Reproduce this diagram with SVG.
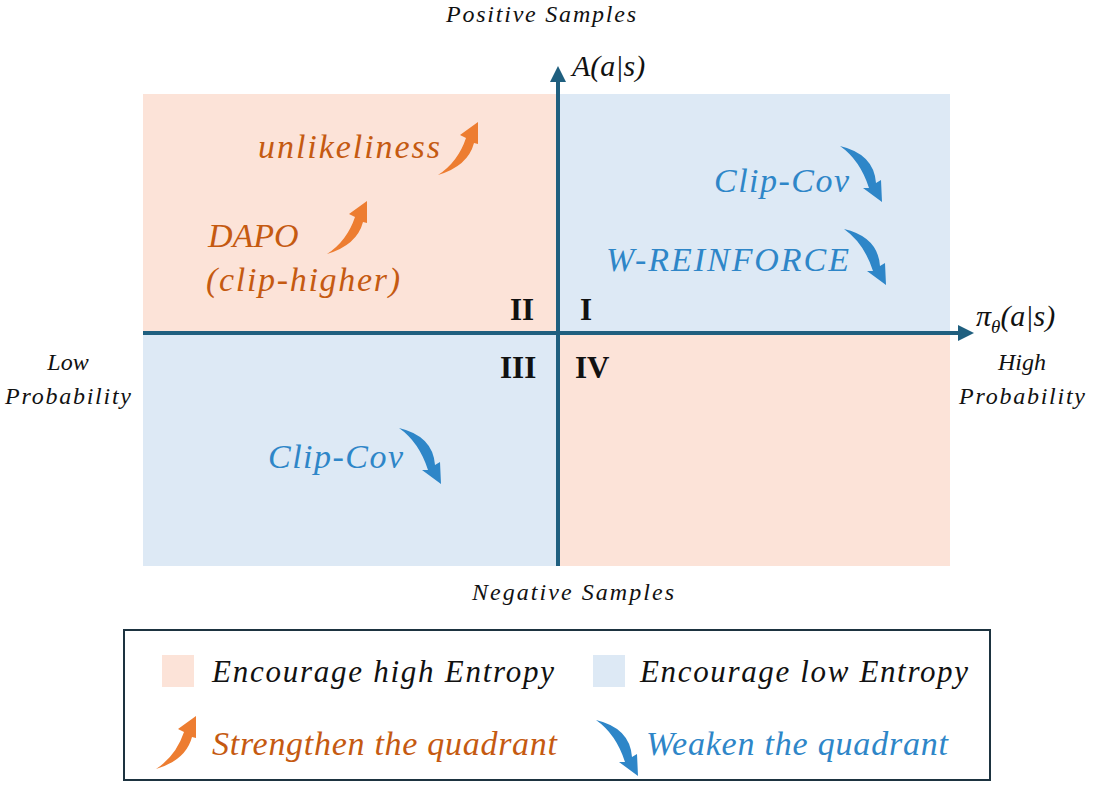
<svg xmlns="http://www.w3.org/2000/svg" width="1093" height="791" viewBox="0 0 1093 791">
<style>
text{font-family:"Liberation Serif",serif;font-style:italic}
.o{fill:#c55a11;font-size:34px}
.b{fill:#2e86c8;font-size:34px}
.k{fill:#111;font-size:24px}
.r{font-style:normal;font-weight:bold;font-size:31px;fill:#111}
.l{font-size:31px;fill:#111}
.ax{stroke:#1f5f7f;stroke-width:4}
</style>
<defs>
<path id="up" d="M0,0 L-18,13 L-12,16 Q-20,40 -40,53 Q-10,44 -4,21 L0,22 Z" fill="#ed7d31"/>
<path id="dn" d="M0,0 L-19,-14 L-13,-14 Q-22,-42 -42,-56 Q-8,-48 -6,-19 L-1,-22 Z" fill="#2e86c8"/>
</defs>
<g id="quadrants">
<rect x="143" y="94" width="415" height="239" fill="#fce3d8"/>
<rect x="558" y="94" width="392" height="239" fill="#dde9f5"/>
<rect x="143" y="333" width="415" height="233" fill="#dde9f5"/>
<rect x="558" y="333" width="392" height="233" fill="#fce3d8"/>
</g>
<g id="axes">
<line class="ax" x1="143" y1="333" x2="962" y2="333"/>
<path d="M974,333 L958,325 L958,341 Z" fill="#1f5f7f"/>
<line class="ax" x1="558" y1="566" x2="558" y2="78"/>
<path d="M558,66 L550,82 L566,82 Z" fill="#1f5f7f"/>
</g>
<g id="labels">
<text class="k" x="541" y="22" text-anchor="middle" textLength="190">Positive Samples</text>
<text class="k" x="573" y="600" text-anchor="middle" textLength="202">Negative Samples</text>
<text class="k" x="68" y="370" text-anchor="middle">Low</text>
<text class="k" x="68" y="404" text-anchor="middle" textLength="126">Probability</text>
<text class="k" x="1022" y="370" text-anchor="middle">High</text>
<text class="k" x="1022" y="404" text-anchor="middle" textLength="126">Probability</text>
<text x="572" y="76" font-size="30" fill="#111">A(a|s)</text>
<text x="976" y="326" font-size="30" fill="#111">π<tspan font-size="19" dy="7">θ</tspan><tspan dy="-7">(a|s)</tspan></text>
<text class="r" x="510" y="320">II</text>
<text class="r" x="580" y="320">I</text>
<text class="r" x="500" y="378">III</text>
<text class="r" x="575" y="378">IV</text>
</g>
<g id="q2">
<text class="o" x="258" y="158" textLength="182">unlikeliness</text>
<text class="o" x="208" y="247">DAPO</text>
<text class="o" x="206" y="291" textLength="194">(clip-higher)</text>
<use href="#up" x="478" y="122"/>
<use href="#up" x="367" y="201"/>
</g>
<g id="q1">
<text class="b" x="714" y="192" textLength="135">Clip-Cov</text>
<text class="b" x="606" y="271" textLength="243">W-REINFORCE</text>
<use href="#dn" x="882" y="202"/>
<use href="#dn" x="886" y="285"/>
</g>
<g id="q3">
<text class="b" x="268" y="468" textLength="135">Clip-Cov</text>
<use href="#dn" x="441" y="484"/>
</g>
<g id="legend">
<rect x="124" y="630" width="866" height="150" fill="none" stroke="#1d3340" stroke-width="2"/>
<rect x="162" y="655" width="32" height="32" fill="#fce3d8"/>
<rect x="593" y="655" width="32" height="32" fill="#dde9f5"/>
<text class="l" x="212" y="682" textLength="342">Encourage high Entropy</text>
<text class="l" x="640" y="682" textLength="328">Encourage low Entropy</text>
<use href="#up" x="196" y="716"/>
<text class="o" x="212" y="755" font-size="31" textLength="345">Strengthen the quadrant</text>
<use href="#dn" x="638" y="776"/>
<text class="b" x="646" y="755" font-size="31" textLength="302">Weaken the quadrant</text>
</g>
</svg>
